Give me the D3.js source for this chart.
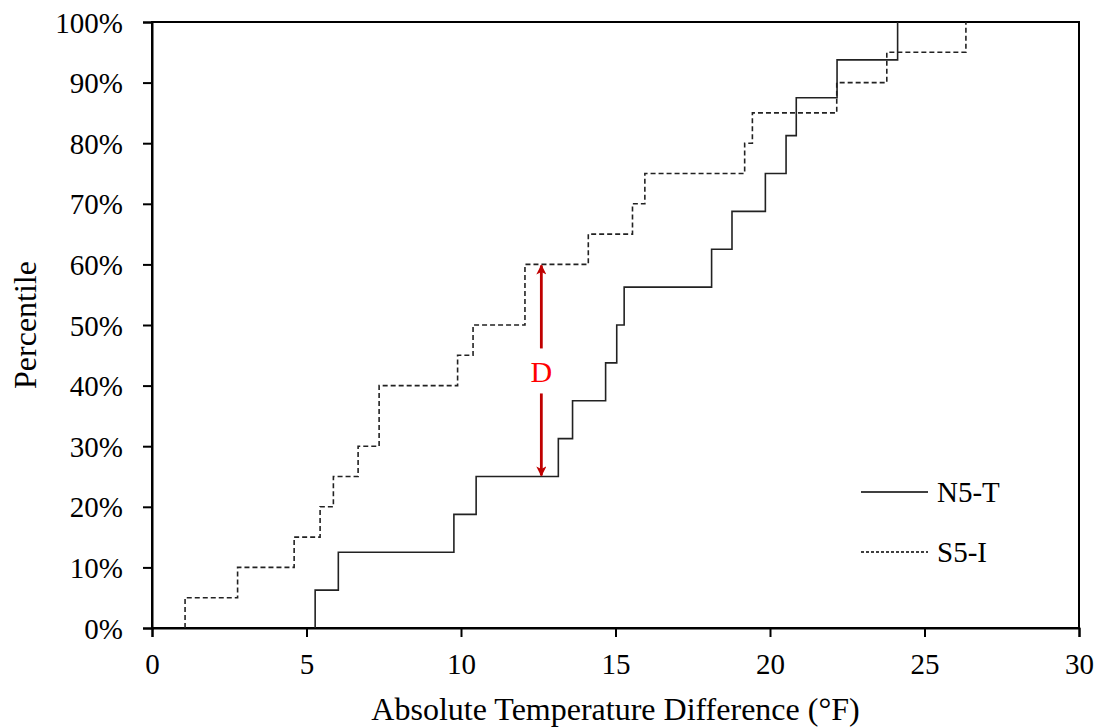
<!DOCTYPE html>
<html>
<head>
<meta charset="utf-8">
<script src="https://cdn.jsdelivr.net/npm/d3@7"></script>
<style>
html,body{margin:0;padding:0;background:#fff;}
svg text{font-family:"Liberation Serif","Times New Roman",serif;}
</style>
</head>
<body>
<svg id="chart" width="1103" height="727"></svg>
<script>
// Data (step positions of the empirical CDFs)
const seriesNames = ["N5-T", "S5-I"];
const n5tX = [5.28, 6.03, 9.77, 10.49, 13.15, 13.61, 14.68, 15.04, 15.28, 18.11, 18.77, 19.85, 20.52, 20.85, 22.17, 24.13];
const n5tP = [6.25, 12.5, 18.75, 25, 31.25, 37.5, 43.75, 50, 56.25, 62.5, 68.75, 75, 81.25, 87.5, 93.75, 100];
const s5iX = [1.07, 2.77, 4.60, 5.44, 5.87, 6.67, 7.35, 9.89, 10.39, 12.07, 14.12, 15.55, 15.95, 19.18, 19.43, 22.16, 23.78, 26.34];
const s5iP = [5, 10, 15, 20, 25, 30, 40, 45, 50, 60, 65, 70, 75, 80, 85, 90, 95, 100];
const xTicks = [0, 5, 10, 15, 20, 25, 30];
const yTicks = [0, 10, 20, 30, 40, 50, 60, 70, 80, 90, 100];
const dMarker = {x: 12.6, from: 60, to: 25, label: "D"};

const svg = d3.select("#chart");
const L = 152, R = 1079, T = 22, B = 628;
const x = d3.scaleLinear().domain([0, 30]).range([L, R]);
const y = d3.scaleLinear().domain([0, 100]).range([B, T]);

// frame
svg.append("rect").attr("x", L).attr("y", T).attr("width", R - L).attr("height", B - T)
  .attr("fill", "none").attr("stroke", "#000").attr("stroke-width", 2);

// axes
const xAxis = svg.append("g").attr("transform", `translate(0,${B})`)
  .call(d3.axisBottom(x).tickValues(xTicks).tickSize(9).tickPadding(16).tickFormat(d3.format("d")));
const yAxis = svg.append("g").attr("transform", `translate(${L},0)`)
  .call(d3.axisLeft(y).tickValues(yTicks).tickSize(9).tickPadding(20).tickFormat(d => d + "%"));
[xAxis, yAxis].forEach(g => {
  g.select(".domain").attr("stroke", "#000").attr("stroke-width", 2);
  g.selectAll(".tick line").attr("stroke", "#000").attr("stroke-width", 2);
  g.selectAll("text").attr("fill", "#000").style("font-family", "'Liberation Serif', serif");
});
xAxis.selectAll("text").style("font-size", "29px");
yAxis.selectAll("text").style("font-size", "29px").attr("dy", "0.35em");

// step lines
function stepPts(xs, ps) {
  const pts = [[xs[0], 0]];
  xs.forEach((v, i) => pts.push([v, ps[i]]));
  return pts;
}
const line = d3.line().x(d => x(d[0])).y(d => y(d[1])).curve(d3.curveStepAfter);
svg.append("path").datum(stepPts(n5tX, n5tP)).attr("d", line)
  .attr("fill", "none").attr("stroke", "#222").attr("stroke-width", 1.6);
svg.append("path").datum(stepPts(s5iX, s5iP)).attr("d", line)
  .attr("fill", "none").attr("stroke", "#222").attr("stroke-width", 1.6).attr("stroke-dasharray", "5,3");

// D marker
const defs = svg.append("defs");
defs.append("marker").attr("id", "ah").attr("viewBox", "0 0 10 10").attr("refX", 9).attr("refY", 5)
  .attr("markerWidth", 4).attr("markerHeight", 3.6).attr("markerUnits", "strokeWidth").attr("orient", "auto")
  .append("path").attr("d", "M0,0 L10,5 L0,10 L2.5,5 Z").attr("fill", "#c00000");
const dx = x(dMarker.x), yTop = y(dMarker.from), yBot = y(dMarker.to), yMid = (yTop + yBot) / 2;
svg.append("line").attr("x1", dx).attr("x2", dx).attr("y1", yMid - 22).attr("y2", yTop + 1)
  .attr("stroke", "#c00000").attr("stroke-width", 2.8).attr("marker-end", "url(#ah)");
svg.append("line").attr("x1", dx).attr("x2", dx).attr("y1", yMid + 23).attr("y2", yBot - 1)
  .attr("stroke", "#c00000").attr("stroke-width", 2.8).attr("marker-end", "url(#ah)");
svg.append("text").attr("x", dx).attr("y", yMid + 1).attr("dy", "0.35em").attr("text-anchor", "middle")
  .attr("fill", "#ff0000").style("font-size", "30px").text(dMarker.label);

// legend
const leg = svg.append("g");
[0, 1].forEach(i => {
  const ly = 492 + i * 60;
  leg.append("line").attr("x1", 861).attr("x2", 928).attr("y1", ly).attr("y2", ly)
    .attr("stroke", "#000").attr("stroke-width", 1.5).attr("stroke-dasharray", i ? "3,2" : null);
  leg.append("text").attr("x", 937).attr("y", ly).attr("dy", "0.35em").style("font-size", "29px")
    .attr("fill", "#000").text(seriesNames[i]);
});

// axis titles
svg.append("text").attr("x", (L + R) / 2).attr("y", 709).attr("dy", "0.35em").attr("text-anchor", "middle")
  .style("font-size", "32px").attr("fill", "#000").text("Absolute Temperature Difference (°F)");
svg.append("text").attr("transform", `translate(25,${(T + B) / 2}) rotate(-90)`).attr("dy", "0.35em")
  .attr("text-anchor", "middle").style("font-size", "32px").attr("fill", "#000").text("Percentile");
</script>
</body>
</html>
